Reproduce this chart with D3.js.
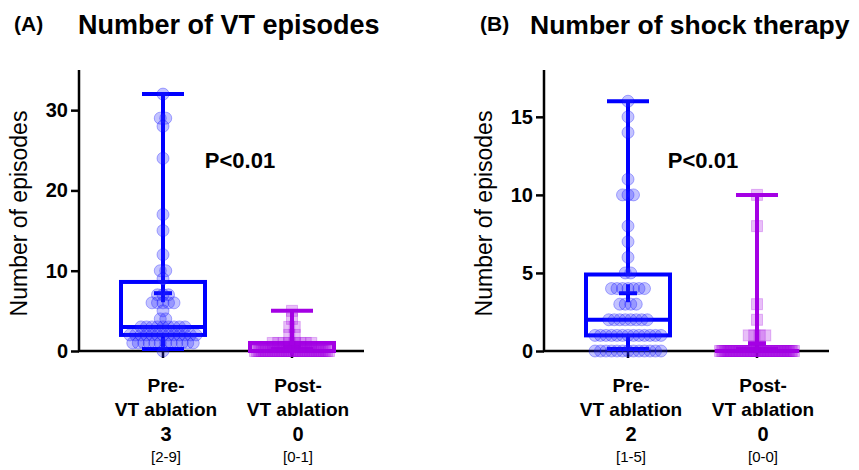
<!DOCTYPE html>
<html>
<head>
<meta charset="utf-8">
<script src="https://cdn.jsdelivr.net/npm/d3@7"></script>
<style>
  body { margin: 0; background: #fff; }
  svg text { font-family: "Liberation Sans", Arial, sans-serif; }
</style>
</head>
<body>
<div id="chart"></div>
<script>
// ---- data ----
const groups = ["pre", "post"];
const groupLine1 = ["Pre-", "Post-"];
const groupLine2 = ["VT ablation", "VT ablation"];

// (A) number of VT episodes, one value per patient
const vtPre = [32, 29, 29, 28, 24, 17, 15, 12, 10, 10, 9, 7, 7, 7, 6, 6, 6, 6, 6, 5, 4, 4,
  3, 3, 3, 3, 3, 3, 3, 3, 3, 2, 2, 2, 2, 2, 2, 2, 2, 2, 2, 2, 2, 2,
  1, 1, 1, 1, 1, 1, 1, 1, 1, 1, 1, 1, 0];
const vtPost = [5, 4, 3, 3, 2, 2, 1, 1, 1, 1, 1, 1, 1, 1,
  0, 0, 0, 0, 0, 0, 0, 0, 0, 0, 0, 0, 0, 0, 0, 0, 0, 0, 0, 0, 0, 0, 0, 0, 0, 0, 0, 0,
  0, 0, 0, 0, 0, 0, 0, 0, 0, 0, 0, 0, 0, 0, 0];
// box stats [pre, post]
const vtMin = [0, 0], vtQ1 = [2, 0], vtMedian = [3, 0], vtQ3 = [8.6, 1], vtMax = [32, 5], vtMean = [7.2, 0.6];
const vtMedianText = ["3", "0"], vtRangeText = ["[2-9]", "[0-1]"];
const vtTicks = [0, 10, 20, 30];

// (B) number of shock therapy
const shockPre = [16, 15, 14, 11, 10, 10, 10, 8, 7, 6, 5, 5, 4, 4, 4, 4, 4, 4, 4, 3, 3, 3, 3,
  2, 2, 2, 2, 2, 2, 2, 2, 1, 1, 1, 1, 1, 1, 1, 1, 1, 1, 1, 1, 1,
  0, 0, 0, 0, 0, 0, 0, 0, 0, 0, 0, 0, 0];
const shockPost = [10, 8, 3, 2, 1, 1, 1, 1,
  0, 0, 0, 0, 0, 0, 0, 0, 0, 0, 0, 0, 0, 0, 0, 0, 0, 0, 0, 0, 0, 0, 0, 0, 0, 0, 0, 0,
  0, 0, 0, 0, 0, 0, 0, 0, 0, 0, 0, 0, 0, 0, 0, 0, 0, 0, 0, 0, 0];
const shockMin = [0, 0], shockQ1 = [1, 0], shockMedian = [2, 0], shockQ3 = [4.9, 0], shockMax = [16, 10], shockMean = [3.7, 0.5];
const shockMedianText = ["2", "0"], shockRangeText = ["[1-5]", "[0-0]"];
const shockTicks = [0, 5, 10, 15];

const blue = "#0000ff", purple = "#a400e4";

const svg = d3.select("#chart").append("svg")
  .attr("width", 859)
  .attr("height", 470);

function panel(opt) {
  const g = svg.append("g").attr("transform", `translate(${opt.left},0)`);
  const bottom = 351, top = 70, axisW = 285;

  const y = d3.scaleLinear().domain([0, opt.yMax]).range([bottom, top]);
  const x = d3.scalePoint().domain(groups).range([84, 213]);

  // letter + title
  g.append("text").attr("x", opt.tagX).attr("y", 31)
    .style("font-weight", "bold").style("font-size", "21px").text(opt.tag);
  g.append("text").attr("x", opt.titleX).attr("y", 34)
    .style("font-weight", "bold").style("font-size", opt.titleSize).text(opt.title);

  // y axis
  const yAxis = g.append("g")
    .call(d3.axisLeft(y).tickValues(opt.ticks).tickSize(8).tickPadding(3).tickSizeOuter(0));
  yAxis.select(".domain").attr("stroke-width", 2.5);
  yAxis.selectAll(".tick line").attr("stroke-width", 2.5);
  yAxis.selectAll(".tick text").style("font-size", "20px").style("font-weight", "bold")
    .attr("fill", "#000");
  yAxis.select(".domain").attr("d", `M0,${bottom + 1}V${top}`);

  // x axis line + ticks
  g.append("line").attr("x1", -1).attr("x2", axisW).attr("y1", bottom).attr("y2", bottom)
    .attr("stroke", "#000").attr("stroke-width", 2.5);
  g.selectAll(".xtick").data(groups).enter().append("line")
    .attr("x1", d => x(d)).attr("x2", d => x(d))
    .attr("y1", bottom).attr("y2", bottom + 7)
    .attr("stroke", "#000").attr("stroke-width", 2.5);

  g.append("text")
    .attr("transform", `translate(${opt.yLabelX},${(top + bottom) / 2 + 3}) rotate(-90)`)
    .attr("text-anchor", "middle").style("font-size", "23px").text("Number of episodes");

  // box + whiskers
  const colors = [blue, purple];
  const boxHalf = 42, capHalf = 21, meanHalf = 9;
  groups.forEach((gr, i) => {
    const cx = x(gr), c = colors[i];
    const s = opt.stats;
    const gb = g.append("g").attr("stroke", c).attr("stroke-width", 4).attr("fill", "none");
    gb.append("line").attr("x1", cx).attr("x2", cx).attr("y1", y(s.q3[i])).attr("y2", y(s.max[i]));
    gb.append("line").attr("x1", cx).attr("x2", cx).attr("y1", y(s.q1[i])).attr("y2", y(s.min[i]));
    gb.append("line").attr("x1", cx - capHalf).attr("x2", cx + capHalf)
      .attr("y1", y(s.max[i])).attr("y2", y(s.max[i]));
    gb.append("line").attr("x1", cx - capHalf).attr("x2", cx + capHalf)
      .attr("y1", y(s.min[i]) - 2).attr("y2", y(s.min[i]) - 2);
    gb.append("rect").attr("x", cx - boxHalf).attr("width", boxHalf * 2)
      .attr("y", y(s.q3[i])).attr("height", y(s.q1[i]) - y(s.q3[i]));
    gb.append("line").attr("x1", cx - boxHalf).attr("x2", cx + boxHalf)
      .attr("y1", y(s.median[i])).attr("y2", y(s.median[i]));
    gb.append("line").attr("x1", cx - meanHalf).attr("x2", cx + meanHalf)
      .attr("y1", y(s.mean[i])).attr("y2", y(s.mean[i]));
    gb.append("line").attr("x1", cx).attr("x2", cx)
      .attr("y1", y(s.mean[i]) - meanHalf).attr("y2", y(s.mean[i]) + meanHalf);
  });

  // scatter points, spread sideways by value
  function spread(values) {
    const byVal = d3.group(values, v => v);
    const pts = [];
    byVal.forEach((arr, v) => {
      const n = arr.length;
      const step = n > 1 ? Math.min(5.5, 74 / (n - 1)) : 0;
      arr.forEach((_, k) => pts.push({ v, off: (k - (n - 1) / 2) * step }));
    });
    return pts;
  }
  g.selectAll(".dotPre").data(spread(opt.pre)).enter().append("circle")
    .attr("cx", d => x("pre") + d.off).attr("cy", d => y(d.v)).attr("r", 6)
    .attr("fill", "rgba(40,40,255,0.28)").attr("stroke", "rgba(0,0,255,0.3)").attr("stroke-width", 1);
  g.selectAll(".dotPost").data(spread(opt.post)).enter().append("rect")
    .attr("x", d => x("post") + d.off - 5.5).attr("y", d => y(d.v) - 5.5)
    .attr("width", 11).attr("height", 11)
    .attr("fill", "rgba(164,0,228,0.25)").attr("stroke", "rgba(164,0,228,0.25)").attr("stroke-width", 1);

  // p value
  g.append("text").attr("x", opt.pX).attr("y", 168).attr("text-anchor", "middle")
    .style("font-weight", "bold").style("font-size", "22px").text("P<0.01");

  // category labels + medians
  groups.forEach((gr, i) => {
    const cx = x(gr) + 3 + i * 3;
    const lab = g.append("g").attr("text-anchor", "middle");
    lab.append("text").attr("x", cx).attr("y", 392).style("font-weight", "bold").style("font-size", "19px").text(groupLine1[i]);
    lab.append("text").attr("x", cx).attr("y", 416).style("font-weight", "bold").style("font-size", "19px").text(groupLine2[i]);
    lab.append("text").attr("x", cx).attr("y", 441).style("font-weight", "bold").style("font-size", "20px").text(opt.medText[i]);
    lab.append("text").attr("x", cx).attr("y", 462).style("font-size", "15px").text(opt.rangeText[i]);
  });
}

panel({
  left: 79, tag: "(A)", tagX: -65, title: "Number of VT episodes", titleX: -1, titleSize: "27px",
  yMax: 35, ticks: vtTicks, yLabelX: -52, pX: 161,
  pre: vtPre, post: vtPost,
  stats: { min: vtMin, q1: vtQ1, median: vtMedian, q3: vtQ3, max: vtMax, mean: vtMean },
  medText: vtMedianText, rangeText: vtRangeText
});
panel({
  left: 544, tag: "(B)", tagX: -64, title: "Number of shock therapy", titleX: -14, titleSize: "26.5px",
  yMax: 18, ticks: shockTicks, yLabelX: -52, pX: 159,
  pre: shockPre, post: shockPost,
  stats: { min: shockMin, q1: shockQ1, median: shockMedian, q3: shockQ3, max: shockMax, mean: shockMean },
  medText: shockMedianText, rangeText: shockRangeText
});
</script>
</body>
</html>
